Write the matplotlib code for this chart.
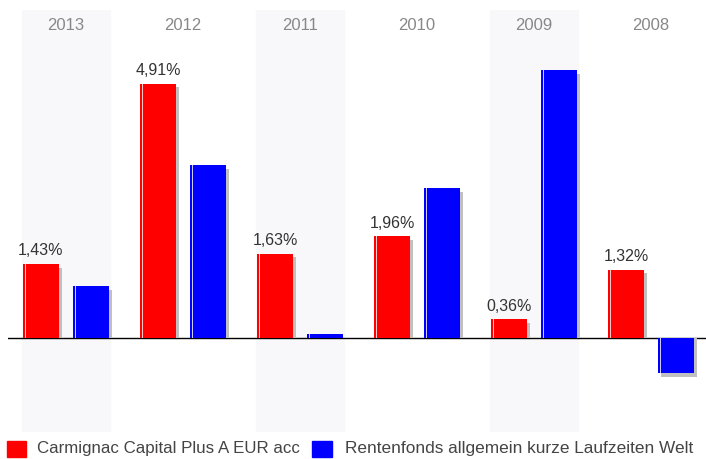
import matplotlib
matplotlib.use("Agg")
import matplotlib.pyplot as plt
from matplotlib.patches import Rectangle
import numpy as np

plt.rcParams['font.family'] = ['Liberation Sans', 'DejaVu Sans']

years = ["2013", "2012", "2011", "2010", "2009", "2008"]
fund = [1.43, 4.91, 1.63, 1.96, 0.36, 1.32]
peer = [1.00, 3.34, 0.08, 2.90, 5.17, -0.68]
fund_labels = ["1,43%", "4,91%", "1,63%", "1,96%", "0,36%", "1,32%"]
fund_name = "Carmignac Capital Plus A EUR acc"
peer_name = "Rentenfonds allgemein kurze Laufzeiten Welt"

W, H = 706, 459
fig = plt.figure(figsize=(W / 100, H / 100), dpi=100)
# axes spans x 8..706 px, y 10..432 px (from top)
ax = fig.add_axes([8 / W, 1 - 432 / H, (706 - 8) / W, (432 - 10) / H])
ax.set_xlim(-0.496, 5.47)
ax.set_ylim(-1.815, 6.33)
ax.axis("off")

x = np.arange(len(years))
off, bw = 0.214, 0.312
sx, sy = 0.026, 0.075

# alternating shaded columns
for i in x[::2]:
    ax.axvspan(i - 0.376, i + 0.376, color="#f8f8fb", zorder=0)

ax.axhline(0, color="black", lw=1.0, zorder=1)

def draw_bars(xs, vals, color):
    for xi, v in zip(xs, vals):
        left = xi - bw / 2
        # shadow
        ax.add_patch(Rectangle((left + sx, 0), bw, v - sy, color="#c0c0c0", lw=0, zorder=2))
        ax.add_patch(Rectangle((left, 0), bw, v, color=color, lw=0, zorder=3))
        # highlight stripe
        ax.add_patch(Rectangle((left + 0.017, 0), 0.012, v, color="white", alpha=0.8, lw=0, zorder=4))

draw_bars(x - off, fund, "#ff0000")
draw_bars(x + off, peer, "#0000ff")

for xi, v, lab in zip(x - off, fund, fund_labels):
    ax.text(xi, v + 0.17, lab, ha="center", va="baseline", fontsize=11.5, color="#333333")

for xi, y in zip(x, years):
    fig.text((66 + 117 * xi) / W, 1 - 26 / H, y, ha="center", va="center",
             fontsize=12, color="#888888")

# legend
fig.patches.append(Rectangle((7 / W, 1 - 457 / H), 19 / W, 16 / H, color="#ff0000",
                             transform=fig.transFigure, figure=fig))
fig.text(37 / W, 1 - 449 / H, fund_name, ha="left", va="center", fontsize=12.2, color="#444444")
fig.patches.append(Rectangle((312 / W, 1 - 457 / H), 20 / W, 16 / H, color="#0000ff",
                             transform=fig.transFigure, figure=fig))
fig.text(345 / W, 1 - 449 / H, peer_name, ha="left", va="center", fontsize=12.4, color="#444444")

fig.savefig("out.png", dpi=100, facecolor="white")
